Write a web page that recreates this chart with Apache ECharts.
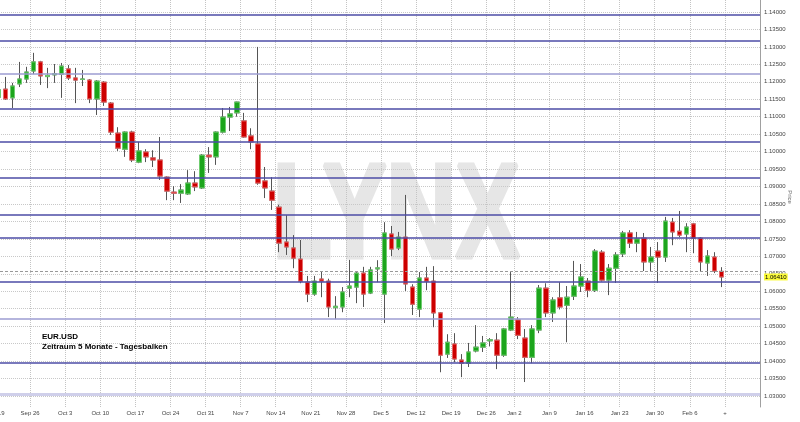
<!DOCTYPE html>
<html>
<head>
<meta charset="utf-8">
<script src="https://cdn.jsdelivr.net/npm/echarts@6/dist/echarts.min.js"></script>
<style>
  html, body { margin: 0; padding: 0; background: #fff; }
  #chart { width: 800px; height: 422px; }
</style>
</head>
<body>
<div id="chart"></div>
<script>
  // trading days (Dec 26 missing), last five are empty slots on the right
  var days = [
    '2016-09-19', '2016-09-20', '2016-09-21', '2016-09-22', '2016-09-23',
    '2016-09-26', '2016-09-27', '2016-09-28', '2016-09-29', '2016-09-30',
    '2016-10-03', '2016-10-04', '2016-10-05', '2016-10-06', '2016-10-07',
    '2016-10-10', '2016-10-11', '2016-10-12', '2016-10-13', '2016-10-14',
    '2016-10-17', '2016-10-18', '2016-10-19', '2016-10-20', '2016-10-21',
    '2016-10-24', '2016-10-25', '2016-10-26', '2016-10-27', '2016-10-28',
    '2016-10-31', '2016-11-01', '2016-11-02', '2016-11-03', '2016-11-04',
    '2016-11-07', '2016-11-08', '2016-11-09', '2016-11-10', '2016-11-11',
    '2016-11-14', '2016-11-15', '2016-11-16', '2016-11-17', '2016-11-18',
    '2016-11-21', '2016-11-22', '2016-11-23', '2016-11-24', '2016-11-25',
    '2016-11-28', '2016-11-29', '2016-11-30', '2016-12-01', '2016-12-02',
    '2016-12-05', '2016-12-06', '2016-12-07', '2016-12-08', '2016-12-09',
    '2016-12-12', '2016-12-13', '2016-12-14', '2016-12-15', '2016-12-16',
    '2016-12-19', '2016-12-20', '2016-12-21', '2016-12-22', '2016-12-23',
    '2016-12-27', '2016-12-28', '2016-12-29', '2016-12-30',
    '2017-01-02', '2017-01-03', '2017-01-04', '2017-01-05', '2017-01-06',
    '2017-01-09', '2017-01-10', '2017-01-11', '2017-01-12', '2017-01-13',
    '2017-01-16', '2017-01-17', '2017-01-18', '2017-01-19', '2017-01-20',
    '2017-01-23', '2017-01-24', '2017-01-25', '2017-01-26', '2017-01-27',
    '2017-01-30', '2017-01-31', '2017-02-01', '2017-02-02', '2017-02-03',
    '2017-02-06', '2017-02-07', '2017-02-08', '2017-02-09', '2017-02-10',
    '2017-02-13', '2017-02-14', '2017-02-15', '2017-02-16', '2017-02-17'
  ]

  var tickDates = ['2016-09-19', '2016-09-26', '2016-10-03', '2016-10-10', '2016-10-17', '2016-10-24',
    '2016-10-31', '2016-11-07', '2016-11-14', '2016-11-21', '2016-11-28', '2016-12-05', '2016-12-12',
    '2016-12-19', '2016-12-27', '2017-01-02', '2017-01-09', '2017-01-16', '2017-01-23', '2017-01-30',
    '2017-02-06', '2017-02-13']
  var tickLabels = ['Sep 19', 'Sep 26', 'Oct 3', 'Oct 10', 'Oct 17', 'Oct 24', 'Oct 31', 'Nov 7', 'Nov 14',
    'Nov 21', 'Nov 28', 'Dec 5', 'Dec 12', 'Dec 19', 'Dec 26', 'Jan 2', 'Jan 9', 'Jan 16', 'Jan 23',
    'Jan 30', 'Feb 6', '+']

  var open = [
    1.1156, 1.1179, 1.1154, 1.1194, 1.1208, 1.1231, 1.1257, 1.1215, 1.1220, 1.1222,
    1.1237, 1.1211, 1.1207, 1.1205, 1.1151, 1.1199, 1.1139, 1.1053, 1.1007, 1.1056,
    1.0970, 1.0999, 1.0982, 1.0976, 1.0927, 1.0884, 1.0881, 1.0879, 1.0910, 1.0896,
    1.0990, 1.0985, 1.1056, 1.1099, 1.1111, 1.1088, 1.1045, 1.1022, 1.0916, 1.0887,
    1.0841, 1.0741, 1.0724, 1.0692, 1.0626, 1.0592, 1.0635, 1.0629, 1.0553, 1.0555,
    1.0609, 1.0612, 1.0652, 1.0595, 1.0664, 1.0592, 1.0764, 1.0724, 1.0755, 1.0612,
    1.0549, 1.0638, 1.0629, 1.0538, 1.0420, 1.0449, 1.0403, 1.0394, 1.0429, 1.0440,
    1.0458, 1.0460, 1.0417, 1.0489, 1.0518, 1.0466, 1.0411, 1.0489, 1.0609, 1.0538,
    1.0581, 1.0560, 1.0586, 1.0615, 1.0629, 1.0603, 1.0712, 1.0632, 1.0666, 1.0707,
    1.0767, 1.0738, 1.0752, 1.0684, 1.0715, 1.0698, 1.0798, 1.0772, 1.0764, 1.0793,
    1.0752, 1.0681, 1.0698, 1.0657
  ]
  var close = [
    1.1177, 1.1151, 1.1188, 1.1208, 1.1228, 1.1257, 1.1217, 1.1218, 1.1223, 1.1245,
    1.1211, 1.1205, 1.1208, 1.1151, 1.1202, 1.1142, 1.1056, 1.1010, 1.1056, 1.0976,
    1.1002, 1.0985, 1.0976, 1.0930, 1.0887, 1.0881, 1.0890, 1.0910, 1.0899, 1.0990,
    1.0985, 1.1056, 1.1099, 1.1108, 1.1142, 1.1042, 1.1028, 1.0910, 1.0896, 1.0861,
    1.0738, 1.0727, 1.0695, 1.0629, 1.0592, 1.0629, 1.0629, 1.0555, 1.0557, 1.0598,
    1.0615, 1.0652, 1.0592, 1.0661, 1.0667, 1.0767, 1.0721, 1.0755, 1.0621, 1.0563,
    1.0638, 1.0629, 1.0538, 1.0417, 1.0454, 1.0406, 1.0394, 1.0426, 1.0440, 1.0452,
    1.0461, 1.0417, 1.0492, 1.0526, 1.0474, 1.0411, 1.0492, 1.0609, 1.0538, 1.0575,
    1.0555, 1.0583, 1.0615, 1.0641, 1.0603, 1.0715, 1.0632, 1.0666, 1.0704, 1.0767,
    1.0738, 1.0750, 1.0684, 1.0698, 1.0698, 1.0801, 1.0770, 1.0761, 1.0784, 1.0752,
    1.0684, 1.0701, 1.0658, 1.0641
  ]
  var low = [
    1.1150, 1.1148, 1.1125, 1.1185, 1.1197, 1.1222, 1.1191, 1.1182, 1.1197, 1.1154,
    1.1205, 1.1139, 1.1188, 1.1139, 1.1105, 1.1131, 1.1048, 1.1002, 1.0985, 1.0970,
    1.0967, 1.0970, 1.0956, 1.0919, 1.0861, 1.0861, 1.0853, 1.0876, 1.0887, 1.0893,
    1.0939, 1.0962, 1.1052, 1.1059, 1.1100, 1.1040, 1.1007, 1.0905, 1.0867, 1.0833,
    1.0712, 1.0704, 1.0666, 1.0623, 1.0569, 1.0587, 1.0583, 1.0526, 1.0520, 1.0540,
    1.0583, 1.0566, 1.0555, 1.0592, 1.0626, 1.0509, 1.0701, 1.0718, 1.0601, 1.0532,
    1.0526, 1.0603, 1.0497, 1.0368, 1.0409, 1.0397, 1.0354, 1.0383, 1.0425, 1.0426,
    1.0442, 1.0377, 1.0412, 1.0486, 1.0463, 1.0340, 1.0394, 1.0480, 1.0526, 1.0512,
    1.0548, 1.0454, 1.0575, 1.0598, 1.0583, 1.0598, 1.0628, 1.0589, 1.0624, 1.0698,
    1.0724, 1.0712, 1.0658, 1.0658, 1.0624, 1.0684, 1.0732, 1.0755, 1.0712, 1.0709,
    1.0658, 1.0644, 1.0652, 1.0612
  ]
  var high = [
    1.1187, 1.1214, 1.1197, 1.1257, 1.1243, 1.1283, 1.1260, 1.1240, 1.1251, 1.1254,
    1.1248, 1.1240, 1.1234, 1.1208, 1.1205, 1.1202, 1.1142, 1.1070, 1.1058, 1.1060,
    1.1028, 1.1007, 1.1004, 1.1042, 1.0929, 1.0901, 1.0907, 1.0947, 1.0944, 1.0993,
    1.1013, 1.1058, 1.1125, 1.1128, 1.1143, 1.1111, 1.1067, 1.1300, 1.0956, 1.0927,
    1.0848, 1.0818, 1.0761, 1.0747, 1.0644, 1.0644, 1.0658, 1.0636, 1.0586, 1.0612,
    1.0690, 1.0658, 1.0670, 1.0670, 1.0689, 1.0798, 1.0787, 1.0770, 1.0876, 1.0620,
    1.0655, 1.0670, 1.0672, 1.0540, 1.0477, 1.0480, 1.0420, 1.0452, 1.0503, 1.0472,
    1.0466, 1.0480, 1.0495, 1.0655, 1.0526, 1.0492, 1.0503, 1.0618, 1.0623, 1.0583,
    1.0626, 1.0615, 1.0687, 1.0678, 1.0638, 1.0721, 1.0718, 1.0678, 1.0712, 1.0773,
    1.0775, 1.0770, 1.0767, 1.0727, 1.0741, 1.0813, 1.0810, 1.0830, 1.0795, 1.0796,
    1.0755, 1.0718, 1.0712, 1.0669
  ]

  // drawn support / resistance levels
  var levels = [1.1391, 1.1319, 1.1124, 1.1028, 1.0924, 1.0820, 1.0752, 1.0626, 1.0395]
  var faintLevels = [1.1224, 1.0522]
  var baseLevels = [1.0305]
  var refLine = 1.0657
  var lastPrice = 1.0641

  // price axis
  var priceMin = 1.03
  var priceMax = 1.14
  var priceStep = 0.005

  var chart = echarts.init(document.getElementById('chart'), null, { renderer: 'canvas' })

  var tickSet = {}
  tickDates.forEach(function(d, i) { tickSet[d] = tickLabels[i] })

  var wickData = []
  var bodyData = []
  for (var i = 0; i < open.length; i++) {
    wickData.push([open[i], close[i], low[i], high[i]])
    bodyData.push([open[i], close[i], Math.min(open[i], close[i]), Math.max(open[i], close[i])])
  }

  // pixel mapping: 1.14 sits at y=12, 1.03 at y=396, plot runs 0..407
  var pxPerUnit = (396 - 12) / (priceMax - priceMin)
  var yMax = priceMax + 12 / pxPerUnit
  var yMin = priceMax - (407 - 12) / pxPerUnit

  var levelLines = []
  levels.forEach(function(v) {
    levelLines.push({ yAxis: v, lineStyle: { color: '#4d4da6', width: 1.6, type: 'solid' } })
  })
  faintLevels.forEach(function(v) {
    levelLines.push({ yAxis: v, lineStyle: { color: '#9d9dd2', width: 1.5, type: 'solid' } })
  })
  baseLevels.forEach(function(v) {
    levelLines.push({ yAxis: v, lineStyle: { color: '#cfcfea', width: 3, type: 'solid' } })
  })

  var font = '"Liberation Sans", Arial, sans-serif'

  chart.setOption({
    backgroundColor: '#fff',
    animation: false,
    grid: [
      { left: -5, right: 40, top: 0, bottom: 15, outerBoundsMode: 'none', containLabel: false },
      { left: -5, right: 40, top: 12, bottom: 26, outerBoundsMode: 'none', containLabel: false }
    ],
    xAxis: [{
      type: 'category',
      gridIndex: 0,
      data: days,
      boundaryGap: true,
      axisLine: { show: false },
      axisTick: { show: false },
      axisLabel: {
        interval: function(index, value) { return tickSet[value] !== undefined },
        formatter: function(value) { return tickSet[value] || '' },
        fontSize: 6,
        fontFamily: font,
        color: '#444',
        margin: 3,
        padding: [0, 7, 0, 0]
      },
      splitLine: {
        show: true,
        interval: function(index, value) { return tickSet[value] !== undefined },
        lineStyle: { color: '#c4c4c4', type: 'dotted', width: 1 }
      }
    }, {
      type: 'value',
      gridIndex: 1,
      show: false
    }],
    yAxis: [{
      type: 'value',
      gridIndex: 0,
      position: 'right',
      min: yMin,
      max: yMax,
      axisLine: { show: true, lineStyle: { color: '#a0a0a0', width: 1 } },
      axisTick: { show: false },
      axisLabel: { show: false },
      splitLine: { show: false }
    }, {
      type: 'value',
      gridIndex: 1,
      position: 'right',
      min: priceMin,
      max: priceMax,
      interval: priceStep,
      axisLine: { show: false },
      axisTick: { show: true, length: 3, lineStyle: { color: '#999' } },
      axisLabel: {
        fontSize: 6,
        fontFamily: font,
        color: '#444',
        margin: 4,
        formatter: function(v) { return v.toFixed(5) }
      },
      splitLine: { show: true, lineStyle: { color: '#c8c8c8', type: 'dotted', width: 1 } }
    }],
    graphic: [
      {
        type: 'text',
        z: -1,
        x: 273,
        y: 220,
        scaleX: 0.72,
        style: {
          text: 'LYNX',
          font: 'bold 133px "Liberation Sans", Arial, sans-serif',
          fill: '#e6e6e6',
          stroke: '#e6e6e6',
          lineWidth: 5,
          textVerticalAlign: 'middle'
        }
      },
      {
        type: 'text',
        z: 50,
        x: 42,
        y: 337,
        style: {
          text: 'EUR.USD',
          font: 'bold 8px "Liberation Sans", Arial, sans-serif',
          fill: '#000',
          textVerticalAlign: 'middle'
        }
      },
      {
        type: 'text',
        z: 50,
        x: 42,
        y: 347,
        style: {
          text: 'Zeitraum 5 Monate - Tagesbalken',
          font: 'bold 8px "Liberation Sans", Arial, sans-serif',
          fill: '#000',
          textVerticalAlign: 'middle'
        }
      },
      {
        type: 'text',
        z: 50,
        x: 790,
        y: 197,
        rotation: -Math.PI / 2,
        style: {
          text: 'Price',
          font: '6px "Liberation Sans", Arial, sans-serif',
          fill: '#666',
          textAlign: 'center',
          textVerticalAlign: 'middle'
        }
      }
    ],
    series: [
      {
        // wicks in grey, bodies drawn by the next series
        type: 'candlestick',
        xAxisIndex: 0,
        yAxisIndex: 0,
        barWidth: 5,
        data: wickData,
        itemStyle: {
          color: 'rgba(0,0,0,0)',
          color0: 'rgba(0,0,0,0)',
          borderColor: '#555',
          borderColor0: '#555',
          borderWidth: 1
        },
        markLine: {
          silent: true,
          symbol: 'none',
          animation: false,
          precision: 5,
          label: { show: false },
          data: levelLines.concat([
            { yAxis: refLine, lineStyle: { color: '#999', width: 1, type: [3, 2] } }
          ])
        }
      },
      {
        type: 'candlestick',
        xAxisIndex: 0,
        yAxisIndex: 0,
        barWidth: 5,
        data: bodyData,
        itemStyle: {
          color: '#1ca51c',
          color0: '#cc0000',
          borderColor: '#6fcc6f',
          borderColor0: '#e86a6a',
          borderWidth: 1
        },
        markLine: {
          silent: true,
          symbol: 'none',
          animation: false,
          precision: 5,
          data: [{
            yAxis: lastPrice,
            lineStyle: { color: 'rgba(0,0,0,0)', width: 1 },
            label: {
              show: true,
              position: 'end',
              distance: 4,
              formatter: lastPrice.toFixed(5),
              fontSize: 6,
              fontFamily: font,
              color: '#000',
              backgroundColor: '#fbfb3a',
              padding: [1, 1, 0, 1]
            }
          }]
        }
      }
    ]
  })
</script>
</body>
</html>
